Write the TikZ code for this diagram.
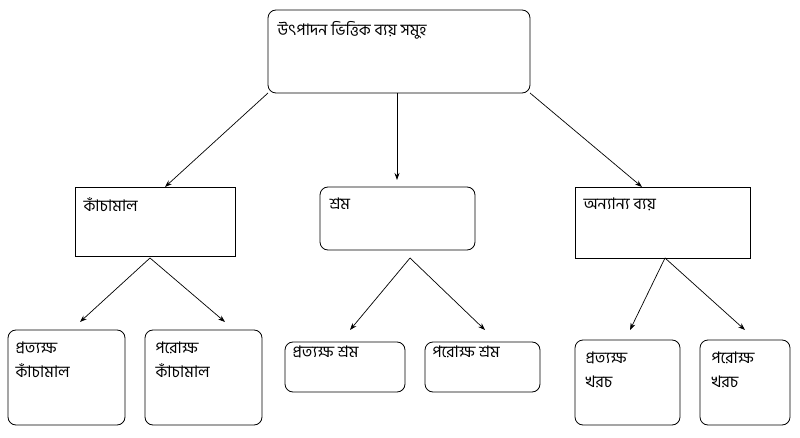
\documentclass[tikz,border=0pt]{standalone}
\usepackage{fontspec}
\newfontfamily\bn[Script=Bengali]{Hind Siliguri}
\usetikzlibrary{arrows.meta}
\begin{document}
\begin{tikzpicture}[x=1pt,y=-1pt,
 bx/.style={draw,line width=0.8pt},
 rbx/.style={bx,rounded corners=8pt},
 lbl/.style={anchor=north west,font=\bn\fontsize{16}{24}\selectfont,align=left},
 ar/.style={-{Stealth[length=7pt,width=5pt]},line width=0.7pt}]
\useasboundingbox (0,0) rectangle (800,438);
\draw[rbx] (268,10) rectangle (530,93);
\node[lbl] (top) at (274,18) {উৎপাদন ভিত্তিক ব্যয় সমুহ};
\draw[bx] (75,187) rectangle (235,256);
\node[lbl] (kc) at (80,194) {কাঁচামাল};
\draw[rbx] (320,187) rectangle (475,250);
\node[lbl] (sr) at (326,194) {শ্রম};
\draw[bx] (575,187) rectangle (750,258);
\node[lbl] (on) at (580,194) {অন্যান্য ব্যয়};
\draw[rbx] (8,330) rectangle (125,425);
\node[lbl] (b1) at (12,338) {প্রত্যক্ষ\\কাঁচামাল};
\draw[rbx] (145,330) rectangle (262,425);
\node[lbl] (b2) at (152,338) {পরোক্ষ\\কাঁচামাল};
\draw[rbx] (285,342) rectangle (405,392);
\node[lbl] (b3) at (289,342) {প্রত্যক্ষ শ্রম};
\draw[rbx] (425,342) rectangle (540,392);
\node[lbl] (b4) at (429,342) {পরোক্ষ শ্রম};
\draw[rbx] (575,340) rectangle (680,425);
\node[lbl] (b5) at (582,348) {প্রত্যক্ষ\\খরচ};
\draw[rbx] (700,340) rectangle (790,425);
\node[lbl] (b6) at (708,348) {পরোক্ষ\\খরচ};
\coordinate (t1) at (268,93); \coordinate (t2) at (397,93); \coordinate (t3) at (530,93);
\coordinate (e1) at (165,187); \coordinate (e2) at (397,180); \coordinate (e3) at (642,187);
\coordinate (k) at (150,258); \coordinate (s) at (410,258); \coordinate (o) at (665,258);
\coordinate (f1) at (80,322); \coordinate (f2) at (225,322);
\coordinate (f3) at (350,330); \coordinate (f4) at (485,330);
\coordinate (f5) at (630,330); \coordinate (f6) at (745,330);
\draw[ar] (t1)--(e1); \draw[ar] (t2)--(e2); \draw[ar] (t3)--(e3);
\draw[ar] (k)--(f1); \draw[ar] (k)--(f2);
\draw[ar] (s)--(f3); \draw[ar] (s)--(f4);
\draw[ar] (o)--(f5); \draw[ar] (o)--(f6);
\end{tikzpicture}
\end{document}
